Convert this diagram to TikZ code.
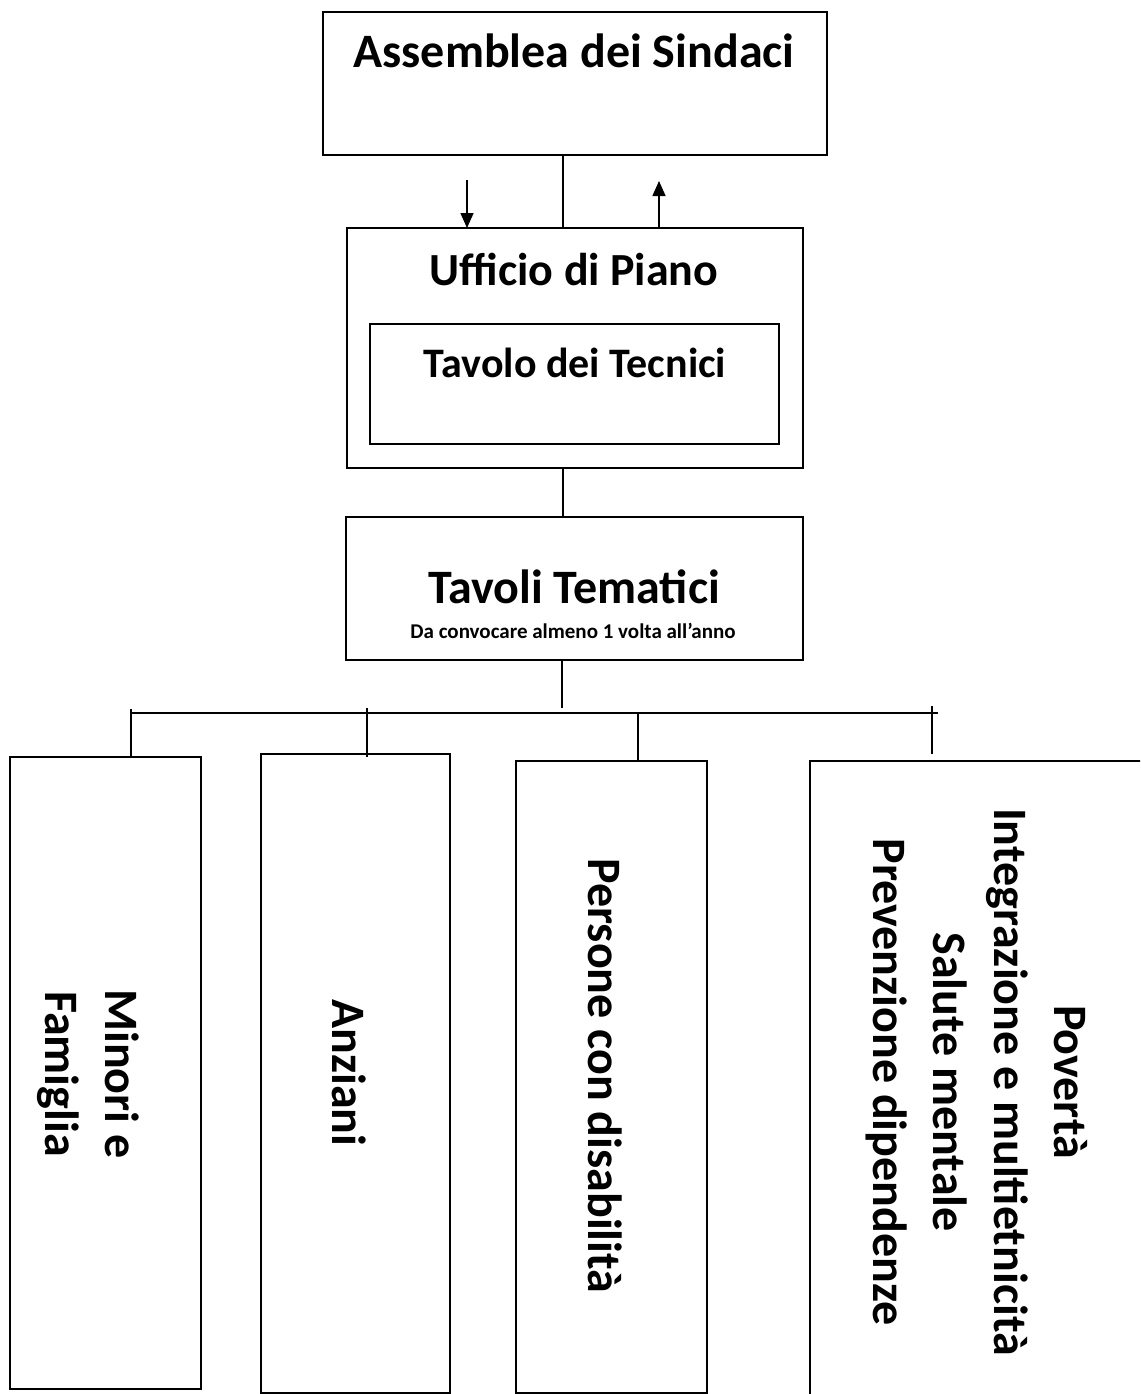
\documentclass[tikz,border=0pt]{standalone}
\usepackage{fontspec}
\setmainfont{Carlito}
\usetikzlibrary{arrows.meta}
\newcommand\fsz[1]{\fontsize{#1pt}{1.25\dimexpr#1pt\relax}\selectfont\bfseries}
\tikzset{
  boxnode/.style={draw, line width=2pt, inner sep=0pt, outer sep=0pt, rectangle},
  txt/.style={inner sep=0pt, outer sep=0pt, anchor=base, font=\fsz{48}},
  vtxt/.style={txt, rotate=-90, align=center, font={\fontsize{48pt}{60.5pt}\selectfont\bfseries}},
  link/.style={line width=1.5pt},
  tipped/.style={line width=1.5pt, -{Triangle[length=15pt,width=13pt]}}
}
\begin{document}
\begin{tikzpicture}[x=1pt,y=-1pt]
\clip (0,0) rectangle (1140,1394);
\fill[white] (0,0) rectangle (1140,1394);
% boxes
\node[boxnode, minimum width=504pt, minimum height=143pt] (assemblea) at (575,83.5) {};
\node[boxnode, minimum width=456pt, minimum height=240pt] (ufficio) at (574.5,348) {};
\node[boxnode, minimum width=409pt, minimum height=120pt] (tecnici) at (574.5,384) {};
\node[boxnode, minimum width=457pt, minimum height=143pt] (tematici) at (574.5,588.5) {};
\node[boxnode, minimum width=191pt, minimum height=632pt] (b1) at (105.5,1073) {};
\node[boxnode, minimum width=189pt, minimum height=639pt] (b2) at (355.5,1073.5) {};
\node[boxnode, minimum width=191pt, minimum height=632pt] (b3) at (611.5,1077) {};
\node[boxnode, minimum width=350pt, minimum height=649pt] (b4) at (985,1085.5) {};
% texts
\node[txt] (tA) at (574,68) {Assemblea dei Sindaci};
\node[txt, font=\fsz{46}] (tU) at (574,285) {Ufficio di Piano};
\node[txt, font=\fsz{42}] (tT) at (575,377) {Tavolo dei Tecnici};
\node[txt] (tM) at (574,603) {Tavoli Tematici};
\node[txt, font=\fsz{21}] (tS) at (573,638) {Da convocare almeno 1 volta all’anno};
\node[vtxt] (t1) at (45,1074) {Minori e\\Famiglia};
\node[vtxt] (t2) at (332,1073) {Anziani};
\node[vtxt] (t3) at (588,1076) {Persone con disabilità};
\node[vtxt] (t4) at (873,1082) {Povertà\\Integrazione e multietnicità\\Salute mentale\\Prevenzione dipendenze};
% connectors
\coordinate (spine) at (563,0);
\draw[link] (assemblea.south -| spine) -- (ufficio.north -| spine);
\coordinate (dnS) at (467,180);
\coordinate (upE) at (659,181);
\draw[tipped] (dnS) -- (dnS |- ufficio.north);
\draw[tipped] (upE |- ufficio.north) -- (upE);
\draw[link] (ufficio.south -| spine) -- (tematici.north -| spine);
\coordinate (stemEnd) at (562,708);
\draw[link] (tematici.south -| stemEnd) -- (stemEnd);
\coordinate (barL) at (131,712.5);
\coordinate (barR) at (938,712.5);
\draw[line width=2pt] (barL) -- (barR);
\coordinate (d1) at (131,709);
\coordinate (d2) at (367,708);
\coordinate (d3) at (638,712.5);
\coordinate (d4) at (932,706);
\coordinate (d4e) at (932,754);
\draw[link] (d1) -- (d1 |- b1.north);
\draw[link] (d2) -- (d2 |- b1.north);
\draw[link] (d3) -- (d3 |- b3.north);
\draw[link] (d4) -- (d4e);
\end{tikzpicture}
\end{document}
